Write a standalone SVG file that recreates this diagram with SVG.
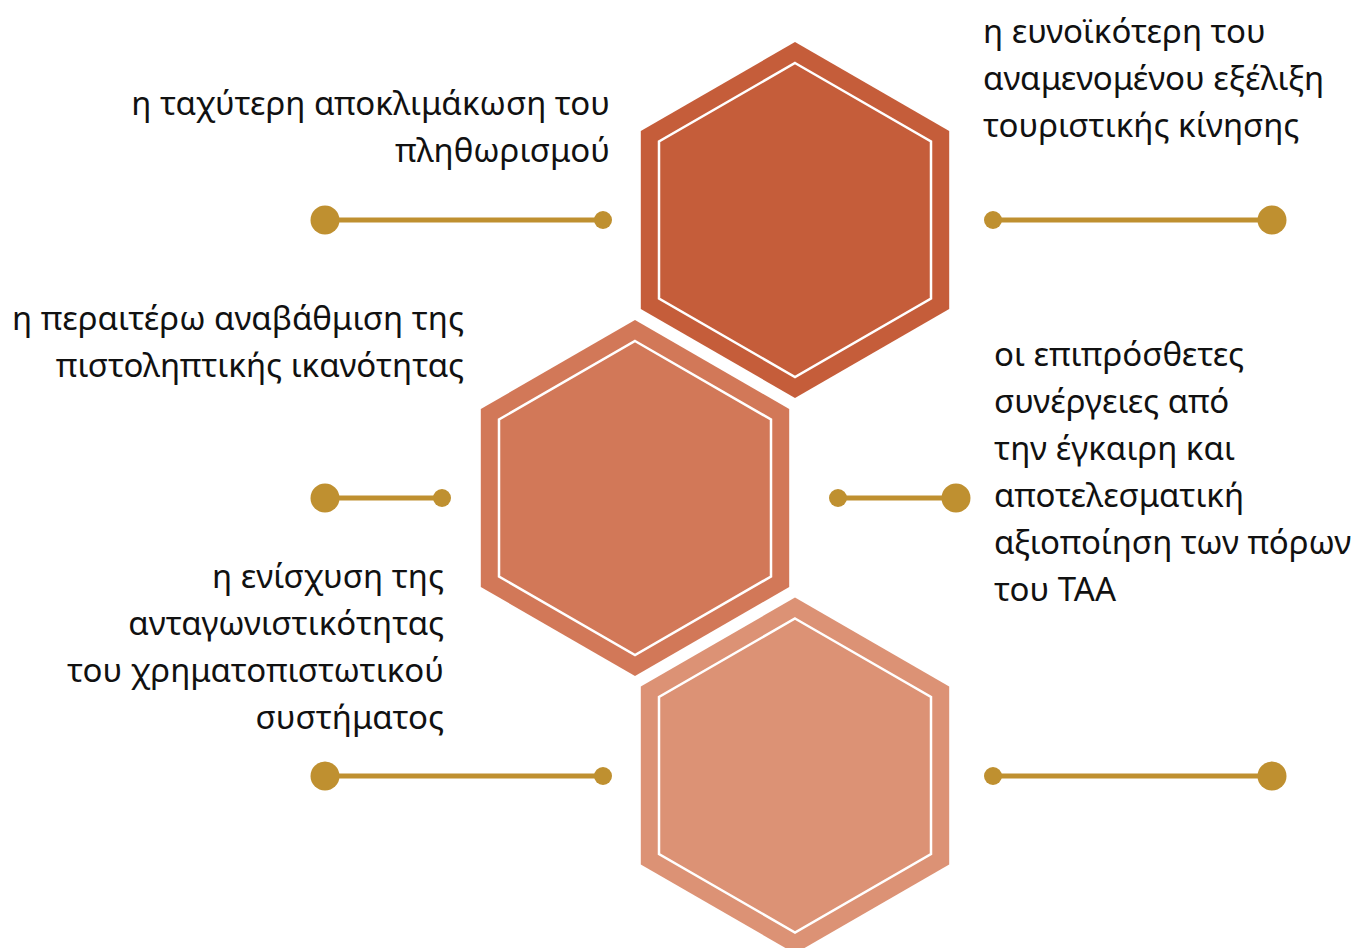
<svg xmlns="http://www.w3.org/2000/svg" xmlns:xlink="http://www.w3.org/1999/xlink" width="1357" height="948" viewBox="0 0 1357 948">
  <style>
    .lbl { font-family: "Noto Sans", "Open Sans", sans-serif; font-size: 33px; fill: #111111; }
    .r { text-anchor: end; }
    .conn line { stroke: #BF9030; stroke-width: 5; }
    .conn circle { fill: #BF9030; }
    .inner { fill: none; stroke: #FFFFFF; stroke-width: 2.5; }
  </style>
  <defs>
    <polygon id="hexOuter" points="0,-178 154.2,-89 154.2,89 0,178 -154.2,89 -154.2,-89"/>
    <polygon id="hexInner" points="0,-157 136,-78.5 136,78.5 0,157 -136,78.5 -136,-78.5"/>
  </defs>
  <rect width="1357" height="948" fill="#FFFFFF"/>

  <g id="hex1" transform="translate(795,220)">
    <use xlink:href="#hexOuter" fill="#C55D3A"/>
    <use xlink:href="#hexInner" class="inner"/>
  </g>
  <g id="hex2" transform="translate(635,498)">
    <use xlink:href="#hexOuter" fill="#D27858"/>
    <use xlink:href="#hexInner" class="inner"/>
  </g>
  <g id="hex3" transform="translate(795,775.5)">
    <use xlink:href="#hexOuter" fill="#DC9275"/>
    <use xlink:href="#hexInner" class="inner"/>
  </g>

  <g id="connectors" class="conn">
    <line x1="325" y1="220" x2="603" y2="220"/>
    <circle cx="325" cy="220" r="14.5"/>
    <circle cx="603" cy="220" r="9"/>
    <line x1="993" y1="220" x2="1272" y2="220"/>
    <circle cx="993" cy="220" r="9"/>
    <circle cx="1272" cy="220" r="14.5"/>
    <line x1="325" y1="498" x2="442" y2="498"/>
    <circle cx="325" cy="498" r="14.5"/>
    <circle cx="442" cy="498" r="9"/>
    <line x1="838" y1="498" x2="956" y2="498"/>
    <circle cx="838" cy="498" r="9"/>
    <circle cx="956" cy="498" r="14.5"/>
    <line x1="325" y1="776" x2="603" y2="776"/>
    <circle cx="325" cy="776" r="14.5"/>
    <circle cx="603" cy="776" r="9"/>
    <line x1="993" y1="776" x2="1272" y2="776"/>
    <circle cx="993" cy="776" r="9"/>
    <circle cx="1272" cy="776" r="14.5"/>
  </g>

  <g id="label1">
    <text class="lbl r" x="610" y="115">η ταχύτερη αποκλιμάκωση του</text>
    <text class="lbl r" x="610" y="162">πληθωρισμού</text>
  </g>
  <g id="label2">
    <text class="lbl" x="983" y="43">η ευνοϊκότερη του</text>
    <text class="lbl" x="983" y="90">αναμενομένου εξέλιξη</text>
    <text class="lbl" x="983" y="137">τουριστικής κίνησης</text>
  </g>
  <g id="label3">
    <text class="lbl r" x="464" y="330">η περαιτέρω αναβάθμιση της</text>
    <text class="lbl r" x="464" y="377">πιστοληπτικής ικανότητας</text>
  </g>
  <g id="label4">
    <text class="lbl" x="994" y="366">οι επιπρόσθετες</text>
    <text class="lbl" x="994" y="413">συνέργειες από</text>
    <text class="lbl" x="994" y="460">την έγκαιρη και</text>
    <text class="lbl" x="994" y="507">αποτελεσματική</text>
    <text class="lbl" x="994" y="554">αξιοποίηση των πόρων</text>
    <text class="lbl" x="994" y="601">του ΤΑΑ</text>
  </g>
  <g id="label5">
    <text class="lbl r" x="444" y="588">η ενίσχυση της</text>
    <text class="lbl r" x="444" y="635">ανταγωνιστικότητας</text>
    <text class="lbl r" x="444" y="682">του χρηματοπιστωτικού</text>
    <text class="lbl r" x="444" y="729">συστήματος</text>
  </g>
</svg>
